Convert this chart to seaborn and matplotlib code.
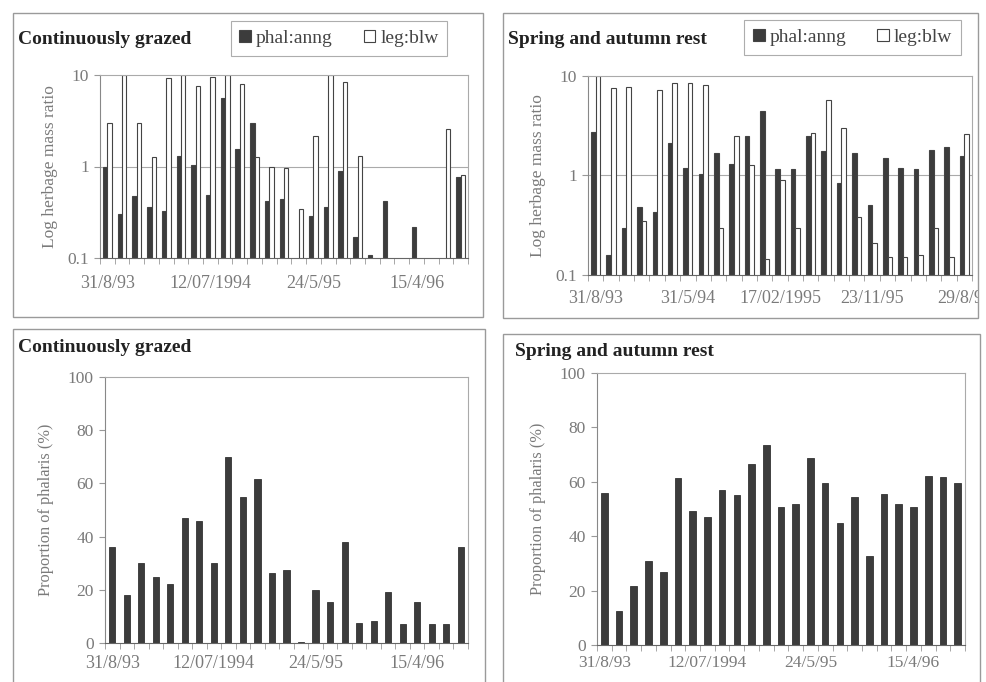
import numpy as np
import pandas as pd
import matplotlib
matplotlib.use("Agg")
import matplotlib.pyplot as plt
from matplotlib.patches import Rectangle
from matplotlib.transforms import Bbox, TransformedBbox
import seaborn as sns

nan = np.nan

# log herbage mass ratio, continuously grazed
cg_phal = [1.0, 0.30, 0.48, 0.36, 0.33, 1.3, 1.05, 0.49, 5.6, 1.55, 3.0, 0.42, 0.44,
           nan, 0.29, 0.36, 0.89, 0.17, 0.107, 0.42, nan, 0.22, nan, nan, 0.77]
cg_leg = [3.0, 10, 3.0, 1.26, 9.3, 10, 7.6, 9.6, 10, 7.9, 1.26, 1.0, 0.97,
          0.34, 2.15, 10, 8.4, 1.3, nan, nan, nan, nan, nan, 2.6, 0.8]

# log herbage mass ratio, spring and autumn rest
sa_phal = [2.75, 0.16, 0.30, 0.48, 0.43, 2.1, 1.19, 1.03, 1.7, 1.3, 2.5, 4.4, 1.16,
           1.16, 2.5, 1.75, 0.85, 1.7, 0.5, 1.5, 1.2, 1.16, 1.8, 1.95, 1.57]
sa_leg = [10, 7.6, 7.8, 0.35, 7.2, 8.5, 8.5, 8.2, 0.30, 2.5, 1.27, 0.145, 0.9,
          0.30, 2.7, 5.8, 3.0, 0.38, 0.21, 0.15, 0.15, 0.16, 0.30, 0.15, 2.6]

# proportion of phalaris (%)
cg_prop = [36, 18, 30, 25, 22, 47, 46, 30, 70, 55, 61.5, 26.5, 27.5, 0.5, 20,
           15.5, 38, 7.5, 8.3, 19.2, 7, 15.4, 7, 7, 36]
sa_prop = [56, 12.5, 21.7, 30.9, 26.8, 61.4, 49.3, 47, 57, 55, 66.5, 73.5, 50.7,
           51.8, 68.7, 59.5, 44.8, 54.4, 32.7, 55.5, 51.8, 50.7, 62, 61.8, 59.5]

series = ["phal:anng", "leg:blw"]

cg_ticks = [0, 7, 14, 21]
cg_ticklabels = ["31/8/93", "12/07/1994", "24/5/95", "15/4/96"]
sa_ticks = [0, 6, 12, 18, 24]
sa_ticklabels = ["31/8/93", "31/5/94", "17/02/1995", "23/11/95", "29/8/96"]

sns.set_style("white")
plt.rcParams["font.family"] = ["Liberation Serif", "DejaVu Serif"]

W, H = 987, 682
fig = plt.figure(figsize=(W / 100, H / 100), dpi=100)


def rect(l, t, r, b):
    return [l / W, 1 - b / H, (r - l) / W, (b - t) / H]


DARK = "#3c3c3c"
GREY = "#7a7a7a"

# panel frames
frames = [(13, 13, 483, 317), (503, 13, 978, 318),
          (13, 329, 485, 700), (503, 334, 980, 700)]
for l, t, r, b in frames:
    fig.patches.append(Rectangle((l / W, 1 - b / H), (r - l) / W, (b - t) / H,
                                 transform=fig.transFigure, fill=False,
                                 ec="#9a9a9a", lw=1.0))

fig.text(18 / W, 1 - 39 / H, "Continuously grazed", weight="bold", size=14,
         va="center", color="#222")
fig.text(508 / W, 1 - 39 / H, "Spring and autumn rest", weight="bold", size=14,
         va="center", color="#222")
fig.text(18 / W, 1 - 348 / H, "Continuously grazed", weight="bold", size=14,
         va="center", color="#222")
fig.text(515 / W, 1 - 352 / H, "Spring and autumn rest", weight="bold", size=14,
         va="center", color="#222")


def style(ax, ticks, labels, xpad):
    ax.set_xlim(-0.5, 24.5)
    ax.set_xticks(ticks, labels)
    ax.set_xticks(np.arange(-0.5, 25, 1), minor=True)
    ax.tick_params(axis="x", which="major", length=0, pad=xpad,
                   labelsize=13, labelcolor=GREY)
    ax.tick_params(axis="x", which="minor", length=4, color="#999",
                   direction="out", bottom=True)
    ax.tick_params(axis="y", which="major", length=4, color="#999",
                   direction="out", left=True, labelsize=12.5,
                   labelcolor=GREY, pad=4)
    ax.tick_params(axis="y", which="minor", length=0)
    ax.set_xlabel("")
    for s in ["top", "right"]:
        ax.spines[s].set_color("#aaaaaa")
        ax.spines[s].set_linewidth(0.8)
    ax.spines["left"].set_color("#888")
    ax.spines["bottom"].set_color("#666")


def ratio_panel(ax, phal, leg, ticks, labels, xpad, legbox):
    df = pd.DataFrame({"sample": np.tile(np.arange(25), 2),
                       "series": np.repeat(series, 25),
                       "ratio": phal + leg})
    sns.barplot(data=df, x="sample", y="ratio", hue="series",
                palette=[DARK, "white"], width=0.6, errorbar=None,
                edgecolor="#444", linewidth=0.8, saturation=1, ax=ax)
    ax.set_yscale("log")
    ax.set_ylim(0.1, 10)
    ax.set_yticks([0.1, 1, 10], ["0.1", "1", "10"])
    ax.axhline(1, color="#aaaaaa", lw=0.8, zorder=0.5)
    ax.set_axisbelow(True)
    ax.set_ylabel("Log herbage mass ratio", size=12.5, color=GREY, labelpad=7)
    style(ax, ticks, labels, xpad)
    l, t, r, b = legbox
    sns.move_legend(ax, loc="center",
                    bbox_to_anchor=((l + r) / 2 / W, 1 - (t + b) / 2 / H),
                    bbox_transform=fig.transFigure, ncol=2, title=None,
                    frameon=True, fancybox=False, edgecolor="#999",
                    fontsize=14, handlelength=0.6, handleheight=0.6,
                    handletextpad=0.25, columnspacing=1.6, borderpad=0.45,
                    labelcolor="#444")
    ax.get_legend().get_frame().set_linewidth(0.8)


def prop_panel(ax, vals, ticks, labels, xpad, width):
    df = pd.DataFrame({"sample": np.arange(25), "prop": vals})
    sns.barplot(data=df, x="sample", y="prop", color=DARK, width=width,
                errorbar=None, edgecolor="#333", linewidth=0.6,
                saturation=1, ax=ax)
    ax.set_ylim(0, 100)
    ax.set_yticks(np.arange(0, 101, 20))
    ax.set_ylabel("Proportion of phalaris (%)", size=11.8, color=GREY,
                  labelpad=10)
    style(ax, ticks, labels, xpad)


ax_tl = fig.add_axes(rect(100, 75, 468, 258))
ax_tr = fig.add_axes(rect(588, 76, 972, 275))
ax_bl = fig.add_axes(rect(105, 377, 468, 643))
ax_br = fig.add_axes(rect(597, 373, 965, 645))

ratio_panel(ax_tl, cg_phal, cg_leg, cg_ticks, cg_ticklabels, 12,
            (221, 22, 457, 55))
ratio_panel(ax_tr, sa_phal, sa_leg, sa_ticks, sa_ticklabels, 11,
            (747, 20, 958, 55))
prop_panel(ax_bl, cg_prop, cg_ticks, cg_ticklabels, 9, 0.42)
prop_panel(ax_br, sa_prop, cg_ticks, cg_ticklabels, 7, 0.45)
ax_br.tick_params(axis="x", which="major", labelsize=12.5)

# the last date label runs into the panel frame and is cut there
l, t, r, b = frames[1]
clip = TransformedBbox(Bbox([[l / W, 1 - b / H], [r / W, 1 - t / H]]),
                       fig.transFigure)
for lab in ax_tr.get_xticklabels():
    lab.set_clip_on(True)
    lab.set_clip_box(clip)

fig.savefig("out.png", dpi=100)
